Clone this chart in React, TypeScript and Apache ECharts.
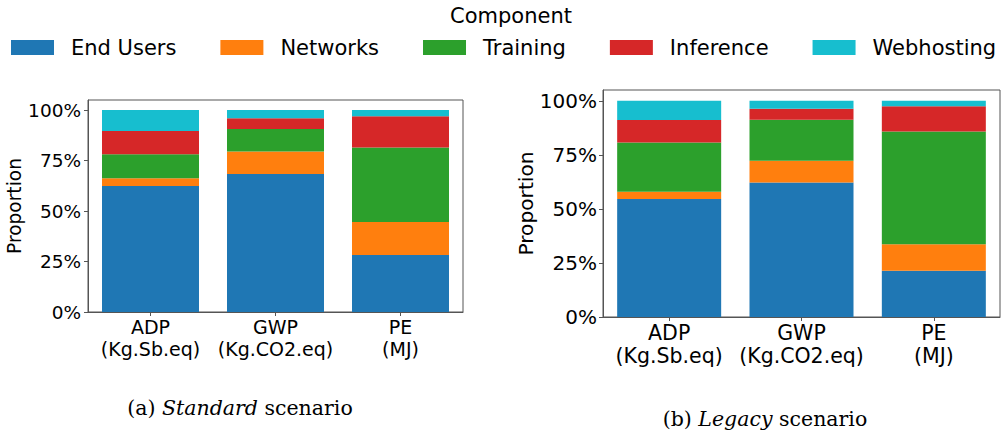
import React, { useEffect, useRef } from "react";
import * as echarts from "echarts";

const categories = ["ADP\n(Kg.Sb.eq)", "GWP\n(Kg.CO2.eq)", "PE\n(MJ)"];
const components = ["End Users", "Networks", "Training", "Inference", "Webhosting"];
const colors = ["#1f77b4", "#ff7f0e", "#2ca02c", "#d62728", "#17becf"];

// Standard scenario (proportions)
const stdEndUsers = [0.624, 0.683, 0.282];
const stdNetworks = [0.039, 0.112, 0.164];
const stdTraining = [0.118, 0.111, 0.369];
const stdInference = [0.115, 0.053, 0.154];
const stdWebhosting = [0.104, 0.041, 0.031];

// Legacy scenario (proportions)
const legEndUsers = [0.546, 0.622, 0.214];
const legNetworks = [0.033, 0.101, 0.122];
const legTraining = [0.228, 0.189, 0.522];
const legInference = [0.104, 0.051, 0.117];
const legWebhosting = [0.089, 0.037, 0.025];

const yTicks = [0, 0.25, 0.5, 0.75, 1];

const SANS = "DejaVu Sans";

export default function App() {
  const ref = useRef<HTMLDivElement>(null);
  useEffect(() => {
    if (!ref.current) return;
    const chart = echarts.init(ref.current, null, { renderer: "svg" });
    const std = [stdEndUsers, stdNetworks, stdTraining, stdInference, stdWebhosting];
    const leg = [legEndUsers, legNetworks, legTraining, legInference, legWebhosting];

    const grids = [
      { left: 88, top: 100, width: 375, height: 212 },
      { left: 603, top: 90, width: 397, height: 227 },
    ];
    const tickSize = [18.5, 20];
    const xSize = [19, 20.5];
    const lh = [22, 23.5];

    const mkX = (i: number) => ({
      type: "category",
      gridIndex: i,
      data: categories,
      axisLine: { show: true, lineStyle: { color: "#555", width: 1 } },
      axisTick: { show: true, alignWithLabel: true, length: 4, lineStyle: { color: "#555" } },
      axisLabel: {
        color: "#000",
        fontFamily: SANS,
        fontSize: xSize[i],
        lineHeight: lh[i],
        margin: 4,
        interval: 0,
      },
    });
    const mkY = (i: number) => ({
      type: "value",
      gridIndex: i,
      min: 0,
      max: 1.05,
      interval: 0.25,
      name: "Proportion",
      nameLocation: "middle",
      nameRotate: 90,
      nameGap: i === 0 ? 61 : 67,
      nameTextStyle: { color: "#000", fontFamily: SANS, fontSize: i === 0 ? 18.6 : 20.2 },
      splitLine: { show: false },
      axisLine: { show: true, lineStyle: { color: "#555", width: 1 } },
      axisTick: { show: true, length: 4, customValues: yTicks, lineStyle: { color: "#555" } },
      axisLabel: {
        customValues: yTicks,
        color: "#000",
        fontFamily: SANS,
        fontSize: tickSize[i],
        margin: i === 0 ? 7 : 6,
        formatter: (v: number) => (v > 1.001 ? "" : Math.round(v * 100) + "%"),
      },
    });

    const series: any[] = [];
    [std, leg].forEach((set, gi) => {
      set.forEach((vals, k) => {
        series.push({
          type: "bar",
          name: components[k],
          xAxisIndex: gi,
          yAxisIndex: gi,
          stack: "s" + gi,
          data: vals,
          barWidth: gi === 0 ? 97 : 104,
          itemStyle: { color: colors[k] },
        });
      });
    });

    chart.setOption({
      animation: false,
      color: colors,
      grid: grids.map((g) => ({
        ...g,
        show: true,
        borderColor: "#555",
        borderWidth: 1,
        backgroundColor: "transparent",
        containLabel: false,
      })),
      xAxis: [mkX(0), mkX(1)],
      yAxis: [mkY(0), mkY(1)],
      legend: {
        data: components,
        left: 11,
        top: 37,
        padding: 0,
        width: 992,
        icon: "rect",
        itemWidth: 43,
        itemHeight: 15,
        itemGap: 44,
        textStyle: { color: "#000", fontFamily: SANS, fontSize: 21, padding: [0, 0, 0, 12] },
      },
      title: [
        {
          text: "Component",
          left: 506,
          top: 0,
          textAlign: "center",
          textStyle: { color: "#000", fontFamily: SANS, fontSize: 21, fontWeight: "normal" },
        },
        {
          text: "(a) {i|Standard} scenario",
          left: 235,
          top: 392,
          textAlign: "center",
          textStyle: {
            color: "#000",
            fontFamily: "DejaVu Serif",
            fontSize: 20.5,
            fontWeight: "normal",
            rich: {
              i: { fontFamily: "DejaVu Serif", fontStyle: "italic", fontSize: 20.5, color: "#000" },
            },
          },
        },
        {
          text: "(b) {i|Legacy} scenario",
          left: 760,
          top: 403,
          textAlign: "center",
          textStyle: {
            color: "#000",
            fontFamily: "DejaVu Serif",
            fontSize: 20.5,
            fontWeight: "normal",
            rich: {
              i: { fontFamily: "DejaVu Serif", fontStyle: "italic", fontSize: 20.5, color: "#000" },
            },
          },
        },
      ],
      series,
    });
    return () => chart.dispose();
  }, []);
  return (
    <div
      ref={ref}
      style={{ position: "absolute", left: 0, top: 0, width: 1003, height: 436, background: "#fff" }}
    />
  );
}
